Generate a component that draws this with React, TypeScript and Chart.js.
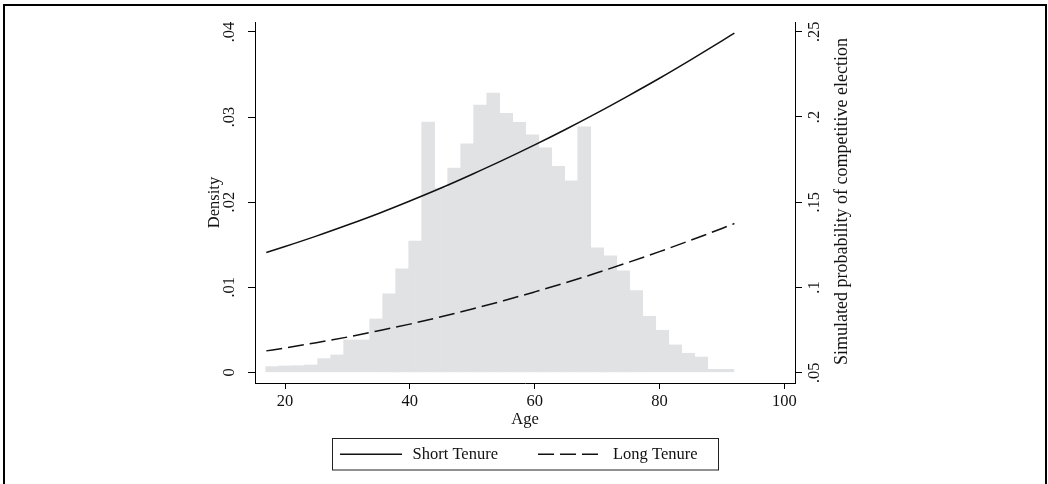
import { useEffect, useRef } from 'react';
import { Chart, registerables } from 'chart.js';

Chart.register(...registerables);

// Histogram of age (density), 36 bins
const binCenters = [
  17.94, 20.03, 22.11, 24.19, 26.27, 28.36, 30.44, 32.52, 34.61, 36.69, 38.77, 40.86,
  42.94, 45.02, 47.11, 49.19, 51.27, 53.36, 55.44, 57.52, 59.61, 61.69, 63.77, 65.86,
  67.94, 70.02, 72.11, 74.19, 76.27, 78.36, 80.44, 82.52, 84.61, 86.69, 88.77, 90.86,
];
const densities = [
  0.00067, 0.00075, 0.00078, 0.00086, 0.00161, 0.00204, 0.0038, 0.0038, 0.00627, 0.00922, 0.01216, 0.01541,
  0.02941, 0.02165, 0.024, 0.02686, 0.03141, 0.03282, 0.03043, 0.02937, 0.02792, 0.02639, 0.0242, 0.02251,
  0.02886, 0.01463, 0.01369, 0.01192, 0.00961, 0.00659, 0.00494, 0.00322, 0.00224, 0.0018, 0.00035, 0.00035,
];

// Simulated probability curves (right axis)
const curveAges = [17, 20, 25, 30, 35, 40, 45, 50, 55, 60, 65, 70, 75, 80, 85, 90, 92];
const shortTenure = [
  0.1205, 0.124, 0.1301, 0.1366, 0.1434, 0.1507, 0.1583, 0.1664, 0.1748, 0.1836, 0.1928, 0.2024, 0.2124,
  0.2227, 0.2335, 0.2446, 0.2492,
];
const longTenure = [
  0.0628, 0.0645, 0.0676, 0.0709, 0.0746, 0.0785, 0.0828, 0.0874, 0.0922, 0.0974, 0.1028, 0.1086, 0.1147,
  0.121, 0.1277, 0.1346, 0.1375,
];

const seriesLabels = ['Short Tenure', 'Long Tenure'];
const xTicks = [20, 40, 60, 80, 100];
const xTickLabels = ['20', '40', '60', '80', '100'];
const leftTicks = [0, 0.01, 0.02, 0.03, 0.04];
const leftTickLabels = ['0', '.01', '.02', '.03', '.04'];
const rightTicks = [0.05, 0.1, 0.15, 0.2, 0.25];
const rightTickLabels = ['.05', '.1', '.15', '.2', '.25'];
const xTitle = 'Age';
const leftTitle = 'Density';
const rightTitle = 'Simulated probability of competitive election';

const FONT = '"Liberation Serif", "Times New Roman", serif';
const INK = '#111111';

export default function App() {
  const ref = useRef<HTMLCanvasElement>(null);

  useEffect(() => {
    if (!ref.current) return;

    const rotText = (ctx: CanvasRenderingContext2D, t: string, x: number, y: number) => {
      ctx.save();
      ctx.translate(x, y);
      ctx.rotate(-Math.PI / 2);
      ctx.fillText(t, 0, 0);
      ctx.restore();
    };

    const stataPlugin = {
      id: 'stataDecor',
      afterDraw(chart: any) {
        const ctx: CanvasRenderingContext2D = chart.ctx;
        const area = chart.chartArea;
        const sx = chart.scales.x;
        const sy = chart.scales.y;
        const sy2 = chart.scales.y2;
        ctx.save();
        ctx.fillStyle = '#000';
        // outer frame (left, top, right)
        ctx.fillRect(3, 4, 1044, 2);
        ctx.fillRect(3, 4, 2, 480);
        ctx.fillRect(1045, 4, 2, 480);

        ctx.fillStyle = INK;
        ctx.textAlign = 'center';
        ctx.textBaseline = 'middle';
        ctx.font = `16.5px ${FONT}`;
        xTicks.forEach((v, i) => ctx.fillText(xTickLabels[i], sx.getPixelForValue(v), area.bottom + 18.5));
        ctx.fillText(xTitle, (area.left + area.right) / 2, area.bottom + 37);

        leftTicks.forEach((v, i) => rotText(ctx, leftTickLabels[i], area.left - 25.5, sy.getPixelForValue(v)));
        rightTicks.forEach((v, i) => rotText(ctx, rightTickLabels[i], area.right + 20, sy2.getPixelForValue(v)));

        ctx.font = `16.5px ${FONT}`;
        rotText(ctx, leftTitle, area.left - 40, (area.top + area.bottom) / 2);
        ctx.font = `18px ${FONT}`;
        rotText(ctx, rightTitle, area.right + 47, (area.top + area.bottom) / 2 - 1);

        // legend
        const boxL = 332.5, boxT = 438.5, boxW = 386, boxH = 31.5;
        ctx.strokeStyle = '#222';
        ctx.lineWidth = 1;
        ctx.strokeRect(boxL, boxT, boxW, boxH);
        const ly = boxT + boxH / 2;
        const items = [
          { x0: 340, x1: 402, tx: 412.5 },
          { x0: 538, x1: 598, tx: 613 },
        ];
        ctx.font = `16.5px ${FONT}`;
        ctx.textAlign = 'left';
        items.forEach((it, i) => {
          const ds = chart.data.datasets[i];
          ctx.save();
          ctx.strokeStyle = ds.borderColor;
          ctx.lineWidth = ds.borderWidth;
          ctx.setLineDash(ds.borderDash || []);
          ctx.beginPath();
          ctx.moveTo(it.x0, ly);
          ctx.lineTo(it.x1, ly);
          ctx.stroke();
          ctx.restore();
          ctx.fillText(seriesLabels[i], it.tx, ly + 0.5);
        });
        ctx.restore();
      },
    };

    const axisCommon = (tickLen: number) => ({
      grid: { display: true, drawOnChartArea: false, drawTicks: true, tickLength: tickLen, color: '#000', lineWidth: 1, offset: false },
      border: { display: true, color: '#000', width: 1 },
      ticks: { display: false },
      title: { display: false },
    });

    const chart = new Chart(ref.current, {
      type: 'line',
      data: {
        datasets: [
          {
            type: 'line',
            label: seriesLabels[0],
            data: curveAges.map((a, i) => ({ x: a, y: shortTenure[i] })),
            xAxisID: 'x',
            yAxisID: 'y2',
            borderColor: INK,
            borderWidth: 1.5,
            pointRadius: 0,
            cubicInterpolationMode: 'monotone',
            fill: false,
            order: 1,
          },
          {
            type: 'line',
            label: seriesLabels[1],
            data: curveAges.map((a, i) => ({ x: a, y: longTenure[i] })),
            xAxisID: 'x',
            yAxisID: 'y2',
            borderColor: INK,
            borderWidth: 1.5,
            borderDash: [16, 6],
            pointRadius: 0,
            cubicInterpolationMode: 'monotone',
            fill: false,
            order: 1,
          },
          {
            type: 'bar',
            label: 'Density',
            data: binCenters.map((c, i) => ({ x: c, y: densities[i] })),
            xAxisID: 'x',
            yAxisID: 'y',
            backgroundColor: '#e1e2e4',
            borderWidth: 0,
            barPercentage: 1,
            categoryPercentage: 1,
            order: 2,
          },
        ] as any,
      },
      options: {
        responsive: false,
        animation: false,
        events: [],
        layout: { padding: { top: 22, left: 0, right: 0, bottom: 0 } },
        plugins: { legend: { display: false }, tooltip: { enabled: false } },
        scales: {
          x: {
            type: 'linear',
            position: 'bottom',
            min: 15.19,
            max: 101.71,
            offset: false,
            afterBuildTicks: (s: any) => { s.ticks = xTicks.map((v) => ({ value: v })); },
            afterFit: (s: any) => { s.height = 101; },
            ...axisCommon(6),
          },
          y: {
            type: 'linear',
            position: 'left',
            min: -0.001256,
            max: 0.04117,
            afterBuildTicks: (s: any) => { s.ticks = leftTicks.map((v) => ({ value: v })); },
            afterFit: (s: any) => { s.width = 255; },
            ...axisCommon(7),
          },
          y2: {
            type: 'linear',
            position: 'right',
            min: 0.04396,
            max: 0.2557,
            afterBuildTicks: (s: any) => { s.ticks = rightTicks.map((v) => ({ value: v })); },
            afterFit: (s: any) => { s.width = 253; },
            ...axisCommon(7),
          },
        } as any,
      },
      plugins: [stataPlugin],
    });

    return () => chart.destroy();
  }, []);

  return (
    <div style={{ position: 'fixed', left: 0, top: 0, width: 1048, height: 484, background: '#fff' }}>
      <canvas ref={ref} width={1048} height={484} style={{ display: 'block' }} />
    </div>
  );
}
